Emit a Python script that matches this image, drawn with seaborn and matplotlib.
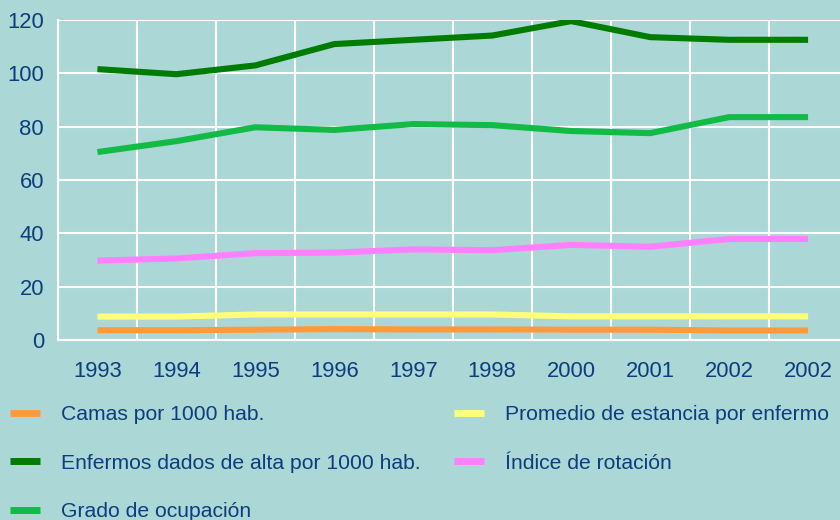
import matplotlib
matplotlib.use("Agg")
import matplotlib.pyplot as plt
import numpy as np
import pandas as pd
import seaborn as sns

# Data
years = ["1993", "1994", "1995", "1996", "1997", "1998", "2000", "2001", "2002", "2002"]
camas = [3.7, 3.7, 3.9, 4.1, 4.0, 4.0, 3.9, 3.9, 3.6, 3.6]
enfermos = [101.6, 99.7, 103.0, 111.0, 112.6, 114.2, 119.6, 113.6, 112.6, 112.6]
grado = [70.5, 74.6, 79.8, 78.8, 81.0, 80.6, 78.4, 77.6, 83.6, 83.6]
promedio = [8.8, 8.8, 9.6, 9.6, 9.6, 9.6, 8.9, 8.9, 8.9, 8.9]
indice = [29.8, 30.6, 32.6, 32.8, 34.0, 33.7, 35.7, 35.0, 37.9, 37.9]

series = {
    "Camas por 1000 hab.": camas,
    "Enfermos dados de alta por 1000 hab.": enfermos,
    "Grado de ocupación": grado,
    "Promedio de estancia por enfermo": promedio,
    "Índice de rotación": indice,
}
colors = ["#ff9a3c", "#007d00", "#12bb45", "#ffff78", "#ff80ff"]

BG = "#abd8d6"
TXT = "#0e3c7e"
FS = 15.8
LFS = 15.2

sns.set_theme(style="white")
plt.rcParams["font.family"] = ["Liberation Sans", "DejaVu Sans"]

rows = []
for name, vals in series.items():
    for i, v in enumerate(vals):
        rows.append({"pos": i, "value": v, "serie": name})
df = pd.DataFrame(rows)

fig = plt.figure(figsize=(8.4, 5.2), dpi=100, facecolor=BG)
ax = fig.add_axes([0.069, 0.346, 0.94, 0.6154])
ax.set_facecolor(BG)

sns.lineplot(data=df, x="pos", y="value", hue="serie", palette=colors,
             linewidth=4.4, ax=ax, legend=False)
for line in ax.get_lines():
    line.set_solid_capstyle("butt")
    line.set_solid_joinstyle("round")

ax.set_xlim(-0.5, 9.5)
ax.set_ylim(0, 120)
ax.set_yticks(range(0, 121, 20))
ax.set_xticks(range(len(years)), labels=years)
ax.set_xticks(np.arange(-0.5, 10, 1), minor=True)
ax.grid(False)
ax.grid(True, which="minor", axis="x", color="white", linewidth=1.5)
ax.grid(True, which="major", axis="y", color="white", linewidth=1.5)
ax.set_axisbelow(True)
ax.tick_params(which="both", length=0)
ax.tick_params(axis="x", pad=15, labelsize=FS, labelcolor=TXT)
ax.tick_params(axis="y", pad=10, labelsize=FS, labelcolor=TXT)
ax.set_xlabel("")
ax.set_ylabel("")
for side in ["top", "right"]:
    ax.spines[side].set_visible(False)
for side in ["left", "bottom"]:
    ax.spines[side].set_color("white")
    ax.spines[side].set_linewidth(1.5)

# legend in two separate columns, as in the reference
names = list(series.keys())
handles = [plt.Line2D([], [], color=c, linewidth=5, solid_capstyle="butt") for c in colors]
leg_kw = dict(loc="upper left", frameon=False, fontsize=LFS, labelcolor=TXT,
              handlelength=1.4, handletextpad=1.0, labelspacing=1.4,
              borderaxespad=0)
leg1 = fig.legend(handles[:3], names[:3], bbox_to_anchor=(0.002, 0.237), **leg_kw)
leg2 = fig.legend(handles[3:], names[3:], bbox_to_anchor=(0.531, 0.237), **leg_kw)

fig.savefig("out.png", dpi=100, facecolor=BG)
